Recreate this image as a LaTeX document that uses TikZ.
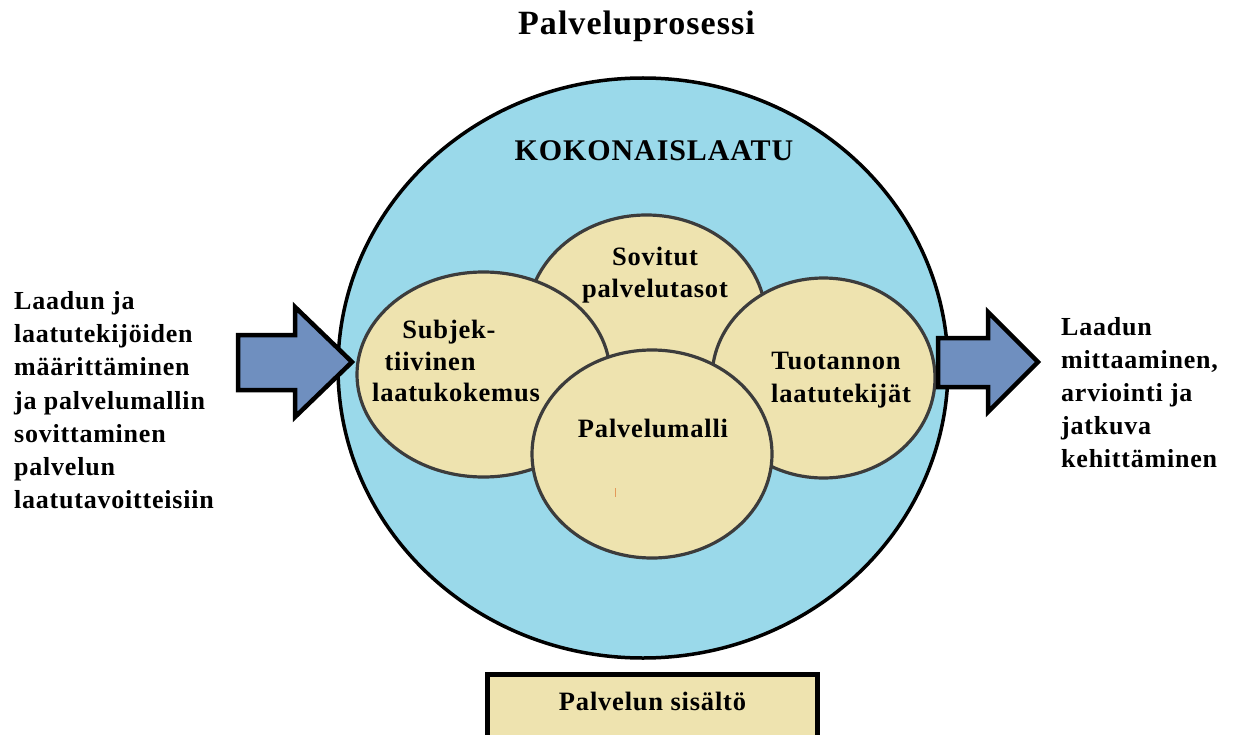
\documentclass[tikz,border=0pt]{standalone}
\usepackage{fontspec}
\setmainfont{Liberation Serif}[LetterSpace=3]
\usetikzlibrary{shapes.geometric}
\definecolor{qualblue}{HTML}{9AD9EA}
\definecolor{petal}{HTML}{EEE3AF}
\definecolor{arrowblue}{HTML}{6F8FBF}
\definecolor{rim}{HTML}{3C3C3C}
\definecolor{tick}{HTML}{E39A5A}

\begin{document}
\begin{tikzpicture}[x=1pt,y=-1pt,
  petalshape/.style={ellipse, draw=rim, line width=3.2pt, fill=petal, inner sep=0pt},
  lbl/.style={inner sep=0pt, anchor=base, font=\bfseries\fontsize{26.5}{30}\selectfont},
  side/.style={inner sep=0pt, anchor=base west, font=\bfseries\fontsize{26}{30}\selectfont},
  flow/.style={draw=black, line width=4.5pt, fill=arrowblue, line join=miter},
]
\useasboundingbox (0,0) rectangle (1238,735);
\clip (0,0) rectangle (1238,735);

% title
\node[inner sep=0pt, anchor=base, font=\bfseries\fontsize{34}{38}\selectfont] (title) at (636.5,35) {Palveluprosessi};

% overall quality
\node[ellipse, draw=black, line width=3.5pt, fill=qualblue, inner sep=0pt,
      minimum width=610pt, minimum height=580pt] (whole) at (643,368) {};
\node[inner sep=0pt, anchor=base, font=\bfseries\fontsize{30}{34}\selectfont] (koko) at (654,161) {KOKONAISLAATU};

% overlapping quality areas
\node[petalshape, minimum width=239pt, minimum height=210pt] (sov) at (646.5,320) {};
\node[petalshape, minimum width=253pt, minimum height=205pt] (subj) at (483.5,374.5) {};
\node[petalshape, minimum width=223pt, minimum height=200pt] (tuot) at (823.5,378) {};
\node[petalshape, minimum width=240pt, minimum height=208pt] (malli) at (652,454) {};

\node[lbl] (sov1) at (655,265) {Sovitut};
\node[lbl] (sov2) at (655,297) {palvelutasot};
\node[lbl] (subj1) at (449,338) {Subjek-};
\node[lbl] (subj2) at (430,370) {tiivinen};
\node[lbl] (subj3) at (456,401) {laatukokemus};
\node[lbl] (tuot1) at (836,369) {Tuotannon};
\node[lbl] (tuot2) at (841,402) {laatutekijät};
\node[lbl] (malli1) at (653,437) {Palvelumalli};
\draw[tick, line width=1pt] (615.5,488) -- (615.5,497);

% input and output arrows
\draw[flow] (238,335) -- (295,335) -- (295,307) -- (352,362) -- (295,417) -- (295,390) -- (238,390) -- cycle;
\draw[flow] (938,338) -- (988,338) -- (988,312) -- (1038,362) -- (988,412) -- (988,387) -- (938,387) -- cycle;

% left text
\node[side] (in1) at (14,309) {Laadun ja};
\node[side] (in2) at (14,342) {laatutekijöiden};
\node[side] (in3) at (14,375) {määrittäminen};
\node[side] (in4) at (14,409) {ja palvelumallin};
\node[side] (in5) at (14,442) {sovittaminen};
\node[side] (in6) at (14,475) {palvelun};
\node[side] (in7) at (14,508) {laatutavoitteisiin};

% right text
\node[side] (out1) at (1061,335) {Laadun};
\node[side] (out2) at (1061,368) {mittaaminen,};
\node[side] (out3) at (1061,401) {arviointi ja};
\node[side] (out4) at (1061,434) {jatkuva};
\node[side] (out5) at (1061,467) {kehittäminen};

% content box
\node[draw=black, line width=4.5pt, fill=petal, inner sep=0pt, anchor=north west,
      minimum width=330pt, minimum height=85pt] (content) at (485,672) {};
\node[lbl] (contentlbl) at (652.5,710) {Palvelun sisältö};
\end{tikzpicture}
\end{document}
